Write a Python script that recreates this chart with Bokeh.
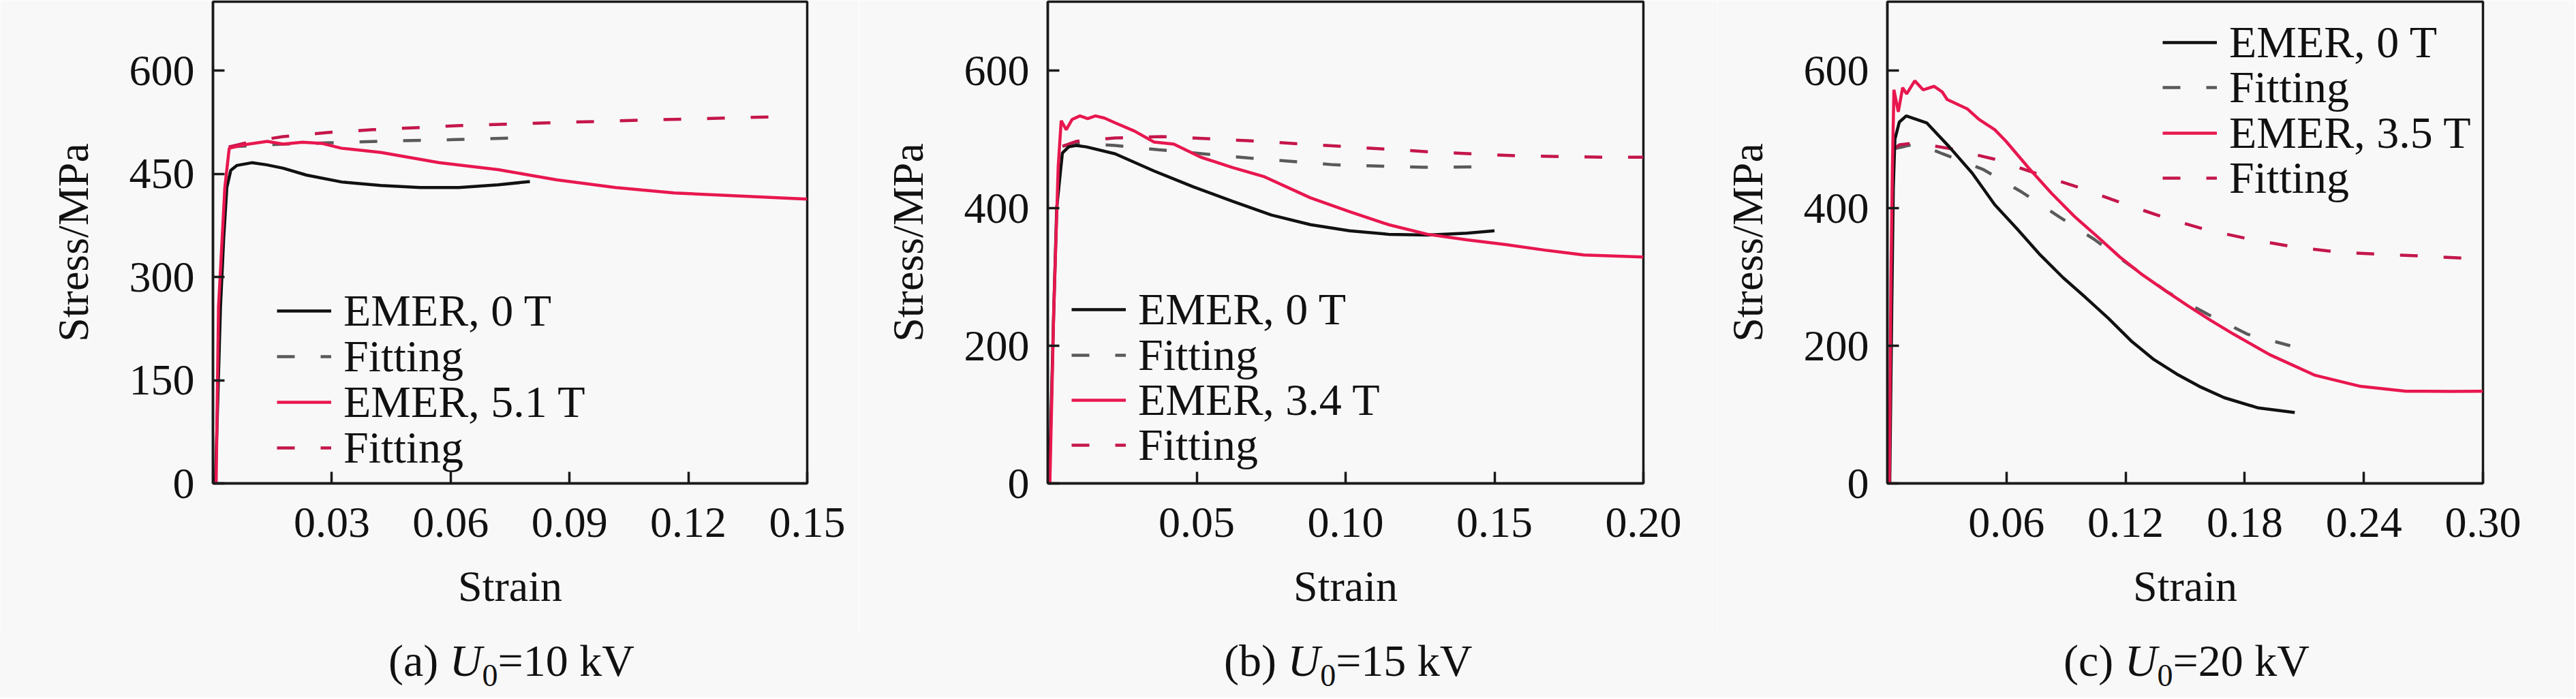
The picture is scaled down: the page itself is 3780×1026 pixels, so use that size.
from bokeh.plotting import figure
from bokeh.models import Range1d, FixedTicker, Legend, LegendItem, NumeralTickFormatter, Div
from bokeh.layouts import row, column
from bokeh.embed import file_html
from bokeh.resources import INLINE

# ---------------- data ----------------
# (a) U0 = 10 kV
a_emer0_strain = [0.0006, 0.0019, 0.0027, 0.0035, 0.0045, 0.006, 0.0098, 0.0135, 0.0177, 0.0236,
                  0.0325, 0.0424, 0.0523, 0.0621, 0.072, 0.08]
a_emer0_stress = [0, 256, 355, 430, 455, 462, 466, 463, 458, 448, 438, 433, 430, 430, 434, 438.6]
a_fit0_strain = [0.004, 0.0177, 0.0295, 0.045, 0.06, 0.077]
a_fit0_stress = [489, 493, 495, 497.5, 499.5, 502]
a_emerB_strain = [0.0008, 0.0014, 0.003, 0.0041, 0.0078, 0.0137, 0.0177, 0.0226, 0.0276, 0.0325,
                  0.0424, 0.0571, 0.072, 0.0868, 0.1016, 0.1165, 0.1313, 0.15]
a_emerB_stress = [0, 256, 430, 487, 492, 497, 493, 495.7, 494, 487, 481, 466, 456, 441, 430, 422, 418, 413]
a_fitB_strain = [0.004, 0.01, 0.0177, 0.029, 0.0404, 0.0626, 0.0848, 0.1075, 0.1297, 0.1438]
a_fitB_stress = [489, 497, 504, 510, 514, 520, 524, 527.7, 531, 533]

# (b) U0 = 15 kV
b_emer0_strain = [0.0005, 0.002, 0.003, 0.0049, 0.007, 0.0095, 0.013, 0.0226, 0.0357, 0.0488, 0.062,
                  0.0751, 0.0882, 0.1013, 0.1144, 0.1275, 0.1407, 0.15]
b_emer0_stress = [0, 250, 400, 480, 489, 491, 489, 479, 454, 431, 410, 390, 376, 367, 362, 361, 363.7, 367]
b_fit0_strain = [0.0049, 0.0095, 0.0226, 0.037, 0.0672, 0.096, 0.1262, 0.1445]
b_fit0_stress = [490, 494, 491, 485, 473, 463, 459.4, 460]
b_emerB_strain = [0.0007, 0.002, 0.0035, 0.0045, 0.0062, 0.0082, 0.0108, 0.0134, 0.016, 0.019, 0.0226,
                  0.0291, 0.0357, 0.0423, 0.0514, 0.062, 0.0725, 0.0882, 0.1013, 0.1144, 0.1275,
                  0.1407, 0.1538, 0.1669, 0.18, 0.2]
b_emerB_stress = [0, 250, 460, 527, 514, 529, 534, 530, 534, 531, 524, 512, 496, 493, 474, 459, 446,
                  415, 395, 376, 362, 354, 347, 339, 332, 329]
b_fitB_strain = [0.005, 0.0095, 0.0226, 0.0383, 0.0672, 0.0974, 0.1275, 0.1577, 0.1866, 0.2]
b_fitB_stress = [490, 497, 502, 504, 498, 490, 482, 476, 474, 474]

# (c) U0 = 20 kV
c_emer0_strain = [0.0012, 0.0022, 0.003, 0.0038, 0.006, 0.0095, 0.0198, 0.0312, 0.0427, 0.0541, 0.0656,
                  0.077, 0.0885, 0.0999, 0.1113, 0.1228, 0.1342, 0.1457, 0.1571, 0.1697, 0.1869, 0.2052]
c_emer0_stress = [0, 250, 430, 500, 525, 534, 524, 489, 451, 405, 369, 332, 299, 270, 240, 207, 180,
                  159, 141, 124.5, 109.6, 103]
c_fit0_strain = [0.003, 0.0152, 0.0278, 0.0484, 0.0679, 0.0862, 0.1045, 0.1216, 0.1411, 0.1612,
                 0.1812, 0.2029]
c_fit0_stress = [486, 494, 479, 456, 423, 388, 354, 318, 278, 246, 217, 200]
c_emerB_strain = [0.001, 0.0018, 0.0025, 0.0033, 0.0055, 0.0077, 0.0097, 0.0138, 0.018, 0.0235, 0.0276,
                  0.0301, 0.0404, 0.0461, 0.0541, 0.0598, 0.0713, 0.0827, 0.0942, 0.1056, 0.1171,
                  0.1285, 0.14, 0.1514, 0.1628, 0.1743, 0.1926, 0.2155, 0.2383, 0.2612, 0.2841, 0.3]
c_emerB_stress = [0, 300, 450, 572, 540, 575, 566, 585, 572, 577, 569, 558, 544, 529, 514, 497, 458,
                  421.5, 388, 359, 329, 303, 280, 258, 237, 217, 187, 157, 141, 134, 133.7, 134]
c_fitB_strain = [0.003, 0.0061, 0.0141, 0.0324, 0.0541, 0.0759, 0.0965, 0.1176, 0.1388, 0.1605,
                 0.1823, 0.204, 0.2269, 0.2486, 0.2715, 0.2933, 0.3]
c_fitB_stress = [486, 492, 495, 486, 471, 449.5, 430, 408, 387, 368.6, 355, 344, 336, 333, 330, 327, 326]

a_xticks = [0.03, 0.06, 0.09, 0.12, 0.15]
b_xticks = [0.05, 0.10, 0.15, 0.20]
c_xticks = [0.06, 0.12, 0.18, 0.24, 0.30]
a_yticks = [0, 150, 300, 450, 600]
bc_yticks = [0, 200, 400, 600]

labels_a = ["EMER, 0 T", "Fitting", "EMER, 5.1 T", "Fitting"]
labels_b = ["EMER, 0 T", "Fitting", "EMER, 3.4 T", "Fitting"]
labels_c = ["EMER, 0 T", "Fitting", "EMER, 3.5 T", "Fitting"]

# ---------------- styling ----------------
FONT = "Liberation Serif"
BG = "#f8f8f8"
INK = "#1a1a1a"
C_BLACK = "#111111"
C_GRAY = "#5a5a5a"
C_RED = "#e8174f"
C_RED_D = "#c4164a"
DASH = "26 38"
LW = 4.5

FRAME_H = 707
PLOT_H = 930
CAP_H = 94
ROW_H = 80  # legend row height (px)


def make_panel(xmax, xticks, yticks, series, labels, legend_x, legend_rows, letter, volts,
               left, frame_w, right):
    width = left + frame_w + right
    p = figure(width=width, height=PLOT_H,
               frame_width=frame_w, frame_height=FRAME_H,
               min_border_left=left, min_border_right=right,
               min_border_top=2, min_border_bottom=PLOT_H - 2 - FRAME_H,
               x_range=Range1d(0, xmax), y_range=Range1d(0, 700),
               output_backend="svg", toolbar_location=None)
    p.background_fill_color = BG
    p.border_fill_color = BG
    p.outline_line_color = INK
    p.outline_line_width = 3.5
    p.grid.visible = False

    for ax in (p.xaxis[0], p.yaxis[0]):
        ax.axis_line_color = INK
        ax.axis_line_width = 3.5
        ax.major_tick_line_color = INK
        ax.major_tick_line_width = 3.5
        ax.major_tick_in = 17
        ax.major_tick_out = 0
        ax.minor_tick_line_color = None
        ax.major_label_text_font = FONT
        ax.major_label_text_font_size = "64px"
        ax.major_label_text_color = C_BLACK
        ax.axis_label_text_font = FONT
        ax.axis_label_text_font_size = "64px"
        ax.axis_label_text_font_style = "normal"
        ax.axis_label_text_color = C_BLACK

    p.xaxis.ticker = FixedTicker(ticks=xticks)
    p.xaxis.formatter = NumeralTickFormatter(format="0.00")
    p.xaxis.major_label_standoff = 36
    p.xaxis.axis_label = "Strain"
    p.xaxis.axis_label_standoff = 34

    p.yaxis.ticker = FixedTicker(ticks=yticks)
    p.yaxis.major_label_standoff = 27
    p.yaxis.axis_label = "Stress/MPa"
    p.yaxis.axis_label_standoff = 44

    (s0x, s0y), (f0x, f0y), (sbx, sby), (fbx, fby) = series
    r1 = p.line(s0x, s0y, line_color=C_BLACK, line_width=LW)
    r2 = p.line(f0x, f0y, line_color=C_GRAY, line_width=LW, line_dash=DASH)
    r3 = p.line(sbx, sby, line_color=C_RED, line_width=LW)
    r4 = p.line(fbx, fby, line_color=C_RED_D, line_width=LW, line_dash=DASH)
    p.renderers = [r2, r4, r1, r3]

    # one legend box per entry so the row pitch matches the reference
    frame_bottom = 2 + FRAME_H
    for lab, r, yc in zip(labels, [r1, r2, r3, r4], legend_rows):
        lg = Legend(items=[LegendItem(label=lab, renderers=[r])],
                    location=(legend_x, frame_bottom - (yc + ROW_H / 2)),
                    orientation="vertical",
                    label_text_font=FONT, label_text_font_size="66px",
                    label_text_color=C_BLACK,
                    glyph_width=80, glyph_height=ROW_H, label_height=ROW_H,
                    label_standoff=18, spacing=0, padding=0, margin=0,
                    border_line_alpha=0, background_fill_alpha=0)
        p.add_layout(lg)

    # caption "(x) U0=NN kV" below the plot, centred under the frame
    total = 355
    x0 = left + frame_w / 2 - total / 2
    html = (f'<div style="padding-left:{x0:.0f}px; padding-top:7px; '
            f"font-family:'{FONT}'; font-size:66px; line-height:66px; color:{C_BLACK}; "
            f'white-space:nowrap; margin:0;">'
            f'({letter}) <i>U</i><sub style="font-size:46px; line-height:0; '
            f'vertical-align:-15px;">0</sub>={volts} kV</div>')
    cap = Div(text=html, width=width, height=CAP_H, margin=0,
              styles={"background-color": BG, "overflow": "hidden"})
    return column(p, cap, spacing=0)


pa = make_panel(0.15, a_xticks, a_yticks,
                [(a_emer0_strain, a_emer0_stress), (a_fit0_strain, a_fit0_stress),
                 (a_emerB_strain, a_emerB_stress), (a_fitB_strain, a_fitB_stress)],
                labels_a, 94, [456, 523, 590, 657], "a", 10, 312, 872, 76)
pb = make_panel(0.20, b_xticks, bc_yticks,
                [(b_emer0_strain, b_emer0_stress), (b_fit0_strain, b_fit0_stress),
                 (b_emerB_strain, b_emerB_stress), (b_fitB_strain, b_fitB_stress)],
                labels_b, 35, [454, 521, 587, 653], "b", 15, 277, 874, 109)
pc = make_panel(0.30, c_xticks, bc_yticks,
                [(c_emer0_strain, c_emer0_stress), (c_fit0_strain, c_fit0_stress),
                 (c_emerB_strain, c_emerB_stress), (c_fitB_strain, c_fitB_stress)],
                labels_c, 404, [62, 128, 195, 261], "c", 20, 249, 874, 135)

layout = row(pa, pb, pc, spacing=0)
with open("out.html", "w") as f:
    f.write(file_html(layout, INLINE))
